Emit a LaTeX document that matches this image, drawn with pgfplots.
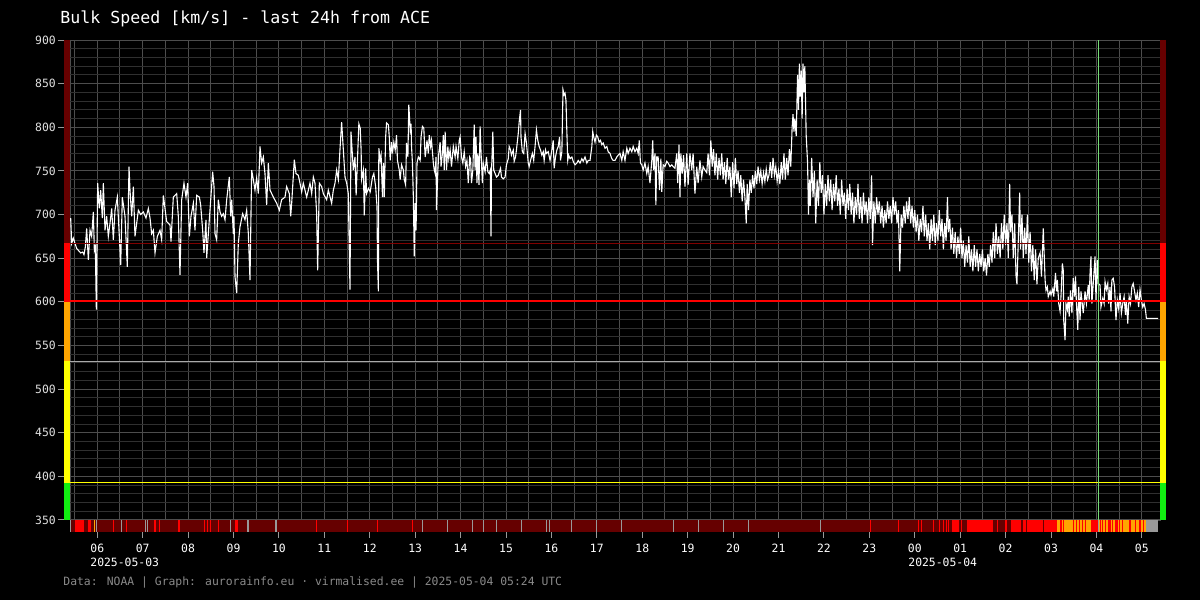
\documentclass[border=0pt]{standalone}
\usepackage{pgfplots}
\pgfplotsset{compat=1.18}
\usepackage{fontspec}
\setmainfont{DejaVu Sans Mono}

\definecolor{dred}{HTML}{660000}
\definecolor{lred}{HTML}{800000}
\definecolor{bred}{HTML}{FF0000}
\definecolor{orng}{HTML}{FFA500}
\definecolor{yel}{HTML}{FFFF00}
\definecolor{grn}{HTML}{11EE11}
\definecolor{gridmaj}{HTML}{4D4D4D}
\definecolor{gridmin}{HTML}{303030}
\definecolor{stgray}{HTML}{999999}
\definecolor{thgray}{HTML}{AAAAAA}
\definecolor{ltgrn}{HTML}{77DD77}
\definecolor{footgray}{HTML}{8A8A8A}

% strip below the axis: block and 1px stripe
\newcommand{\seg}[3]{\addplot[fill=#1,draw=none] coordinates {(#2,336.5) (#3,336.5) (#3,350) (#2,350)} --cycle;}
\newcommand{\stripe}[2]{\addplot[draw=#1,line width=0.55pt] coordinates {(#2,336.5) (#2,350)};}

\begin{document}
\begin{tikzpicture}
\fill[black] (0,0) rectangle (600pt,300pt);
\useasboundingbox (0,0) rectangle (600pt,300pt);
\begin{axis}[
  at={(35pt,40pt)}, anchor=south west,
  scale only axis, width=545pt, height=240pt,
  xmin=5.4, xmax=29.4, ymin=350, ymax=900,
  clip=false,
  axis line style={gridmaj},
  xtick={6,...,29},
  xticklabels={06,07,08,09,10,11,12,13,14,15,16,17,18,19,20,21,22,23,00,01,02,03,04,05},
  minor xtick={5.5,6.5,...,28.5},
  ytick={350,400,...,900},
  extra y ticks={360,370,380,390,410,420,430,440,460,470,480,490,510,520,530,540,560,570,580,590,610,620,630,640,660,670,680,690,710,720,730,740,760,770,780,790,810,820,830,840,860,870,880,890},
  extra y tick labels={},
  extra y tick style={major tick length=0pt, major grid style={gridmin, line width=0.5pt}},
  grid=both,
  major grid style={gridmaj, line width=0.5pt},
  minor grid style={gridmaj, line width=0.5pt},
  tick align=outside, tick pos=left,
  major tick length=3pt, minor tick length=0pt,
  x tick style={draw=white!60!black, line width=0.5pt, yshift=-6pt},
  y tick style={draw=white!60!black, line width=0.5pt, xshift=-3pt},
  /pgf/number format/assume math mode=true,
  tick label style={font=\fontsize{5.7}{6}\selectfont, text=white},
  xticklabel style={yshift=-5.5pt},
  yticklabel style={xshift=-0.6pt, text=white!88!black},
]
% side colour bars
\addplot[fill=dred,draw=none] coordinates {(5.268,667) (5.4,667) (5.4,900) (5.268,900)} --cycle;
\addplot[fill=bred,draw=none] coordinates {(5.268,600) (5.4,600) (5.4,667) (5.268,667)} --cycle;
\addplot[fill=orng,draw=none] coordinates {(5.268,532) (5.4,532) (5.4,600) (5.268,600)} --cycle;
\addplot[fill=yel,draw=none] coordinates {(5.268,392) (5.4,392) (5.4,532) (5.268,532)} --cycle;
\addplot[fill=grn,draw=none] coordinates {(5.268,350) (5.4,350) (5.4,392) (5.268,392)} --cycle;
\addplot[fill=dred,draw=none] coordinates {(29.4,667) (29.532,667) (29.532,900) (29.4,900)} --cycle;
\addplot[fill=bred,draw=none] coordinates {(29.4,600) (29.532,600) (29.532,667) (29.4,667)} --cycle;
\addplot[fill=orng,draw=none] coordinates {(29.4,532) (29.532,532) (29.532,600) (29.4,600)} --cycle;
\addplot[fill=yel,draw=none] coordinates {(29.4,392) (29.532,392) (29.532,532) (29.4,532)} --cycle;
\addplot[fill=grn,draw=none] coordinates {(29.4,350) (29.532,350) (29.532,392) (29.4,392)} --cycle;

% status strip
\seg{dred}{5.41}{29.09}
\seg{bred}{5.50}{5.71}
\stripe{stgray}{5.42}
\stripe{bred}{5.80}\stripe{bred}{5.84}\stripe{orng}{5.94}\stripe{stgray}{5.99}
\stripe{bred}{6.35}\stripe{stgray}{6.54}\stripe{bred}{6.64}
\stripe{stgray}{7.06}\stripe{stgray}{7.10}
\seg{bred}{7.26}{7.29}\stripe{bred}{7.38}\stripe{bred}{7.80}
\stripe{bred}{8.37}\stripe{bred}{8.42}\seg{bred}{8.49}{8.51}\stripe{bred}{8.67}
\stripe{stgray}{8.93}\seg{bred}{9.03}{9.10}
\seg{stgray}{9.30}{9.34}\seg{stgray}{9.92}{9.96}
\stripe{bred}{10.82}\stripe{bred}{11.51}\stripe{bred}{12.17}\stripe{bred}{12.94}
\stripe{stgray}{13.17}\stripe{stgray}{13.72}\stripe{stgray}{14.27}\stripe{stgray}{14.51}
\stripe{stgray}{14.79}\stripe{stgray}{15.35}\stripe{stgray}{15.90}\stripe{stgray}{15.95}
\stripe{stgray}{16.45}\stripe{stgray}{17.00}\stripe{stgray}{17.55}\stripe{stgray}{18.69}
\stripe{stgray}{19.24}\stripe{stgray}{19.79}\stripe{stgray}{20.33}\stripe{stgray}{21.92}
\stripe{bred}{23.02}\stripe{bred}{23.64}\stripe{bred}{24.08}\stripe{bred}{24.14}
\stripe{bred}{24.41}\stripe{bred}{24.54}\stripe{bred}{24.63}\stripe{bred}{24.69}\stripe{bred}{24.74}
\seg{bred}{24.82}{24.97}\stripe{bred}{25.02}
\seg{bred}{25.15}{25.72}\seg{bred}{25.81}{25.83}\seg{bred}{25.99}{26.03}
\seg{bred}{26.12}{26.34}\seg{bred}{26.38}{26.45}\seg{bred}{26.47}{26.82}
\seg{bred}{26.84}{27.13}
\seg{orng}{27.13}{27.88}
\stripe{bred}{27.22}\stripe{bred}{27.28}\stripe{bred}{27.49}\stripe{bred}{27.57}
\stripe{bred}{27.63}\stripe{bred}{27.70}\stripe{bred}{27.76}
\seg{bred}{27.88}{28.03}\stripe{stgray}{28.04}
\seg{orng}{28.05}{29.09}
\seg{bred}{28.07}{28.10}\stripe{bred}{28.13}\stripe{bred}{28.19}\stripe{bred}{28.27}
\stripe{bred}{28.30}\stripe{bred}{28.35}\seg{bred}{28.41}{28.47}\stripe{bred}{28.50}
\stripe{bred}{28.58}\seg{bred}{28.72}{28.76}\stripe{bred}{28.87}\seg{bred}{28.94}{28.98}
\stripe{bred}{29.03}
\seg{stgray}{29.09}{29.36}

% bulk speed
\addplot[white, line width=0.55pt] coordinates {
(5.415,696) (5.437,667) (5.474,673) (5.510,667) (5.547,661) (5.584,659) (5.635,656) (5.679,657)
(5.708,654) (5.738,663) (5.767,684) (5.804,648) (5.841,682) (5.877,675) (5.914,703) (5.936,659)
(5.958,663) (5.980,591) (6.009,736) (6.046,707) (6.075,728) (6.112,696) (6.134,736) (6.171,682)
(6.207,698) (6.244,675) (6.281,690) (6.318,707) (6.354,671) (6.391,705) (6.442,720) (6.486,675)
(6.516,642) (6.552,720) (6.611,698) (6.662,640) (6.699,755) (6.721,728) (6.758,698) (6.795,732)
(6.831,675) (6.905,705) (6.956,700) (7.015,703) (7.073,696) (7.125,707) (7.162,696) (7.198,678)
(7.235,682) (7.272,656) (7.323,675) (7.382,682) (7.418,671) (7.455,722) (7.528,692) (7.602,688)
(7.624,669) (7.675,720) (7.749,724) (7.785,698) (7.822,631) (7.859,717) (7.910,736) (7.954,720)
(7.991,736) (8.028,675) (8.064,698) (8.116,713) (8.152,682) (8.189,722) (8.248,720) (8.277,711)
(8.321,682) (8.350,656) (8.394,694) (8.409,650) (8.446,678) (8.541,749) (8.571,732) (8.593,678)
(8.629,671) (8.666,717) (8.703,703) (8.739,698) (8.776,701) (8.813,694) (8.850,717) (8.908,743)
(8.938,698) (8.960,717) (8.996,678) (9.011,698) (9.033,629) (9.070,610) (9.106,667) (9.143,686)
(9.202,701) (9.253,694) (9.290,705) (9.327,678) (9.363,625) (9.400,751) (9.437,740) (9.473,728)
(9.510,742) (9.547,724) (9.583,778) (9.620,759) (9.657,766) (9.693,747) (9.730,711) (9.767,759)
(9.804,728) (9.877,720) (9.950,713) (10.009,705) (10.060,717) (10.134,720) (10.170,732) (10.229,724)
(10.259,698) (10.281,713) (10.339,763) (10.376,747) (10.427,745) (10.464,736) (10.501,726) (10.537,736)
(10.611,720) (10.648,728) (10.684,736) (10.721,724) (10.758,743) (10.794,736) (10.831,701) (10.853,636)
(10.890,736) (10.941,732) (10.978,724) (11.051,717) (11.088,728) (11.161,713) (11.198,728) (11.235,736)
(11.271,751) (11.308,740) (11.345,775) (11.381,806) (11.455,743) (11.492,736) (11.528,724) (11.565,614)
(11.587,795) (11.638,751) (11.675,766)
(11.70,722) (11.76,804) (11.79,799) (11.81,774) (11.82,740) (11.86,751) (11.88,699) (11.91,753)
(11.93,724) (11.97,730) (12.01,726) (12.06,743) (12.09,747) (12.13,732) (12.16,709) (12.17,648)
(12.19,612) (12.20,776) (12.23,762) (12.25,768) (12.28,720) (12.30,759) (12.32,720) (12.35,789)
(12.37,805) (12.41,803) (12.43,789) (12.45,762) (12.48,783) (12.50,770) (12.53,783) (12.56,774)
(12.59,791) (12.61,762) (12.65,751) (12.67,740) (12.70,757) (12.74,751) (12.76,740) (12.79,734)
(12.81,782) (12.84,766) (12.86,826) (12.89,797) (12.91,804) (12.92,778) (12.94,759) (12.96,720)
(12.98,652) (13.00,713) (13.02,682) (13.04,759) (13.07,766) (13.11,762) (13.13,789) (13.16,801)
(13.19,799) (13.22,766) (13.24,774) (13.26,785) (13.29,770) (13.31,791) (13.34,778) (13.36,785)
(13.40,759) (13.42,751) (13.44,747) (13.46,766) (13.47,705) (13.50,751) (13.52,770) (13.55,783)
(13.57,755) (13.60,770) (13.62,791) (13.64,751) (13.66,795) (13.69,751) (13.72,778) (13.74,764)
(13.77,774) (13.80,755) (13.84,778) (13.88,766) (13.90,778) (13.94,764) (13.97,785) (13.99,789)
(14.02,766) (14.05,759) (14.08,772) (14.11,755) (14.14,762) (14.17,736) (14.20,766) (14.22,764)
(14.24,736) (14.27,751) (14.30,803) (14.32,751) (14.34,789) (14.36,736) (14.38,770) (14.405,734)
(14.43,801) (14.45,772) (14.48,736) (14.50,759) (14.54,749) (14.57,766) (14.60,749) (14.63,747)
(14.655,751) (14.67,675) (14.68,747) (14.71,795) (14.73,751) (14.76,747) (14.79,743) (14.83,745)
(14.88,753) (14.90,743) (14.94,741) (14.98,743) (15.01,757) (15.05,764) (15.07,778) (15.10,774)
(15.12,768) (15.16,774) (15.18,761) (15.21,766) (15.23,774) (15.27,793) (15.29,806) (15.32,820)
(15.33,789) (15.36,772) (15.39,770) (15.42,793) (15.45,782) (15.49,759) (15.51,755) (15.54,762)
(15.58,770) (15.61,762) (15.64,778) (15.67,797) (15.70,785) (15.73,778) (15.76,774) (15.79,768)
(15.82,772) (15.84,762) (15.87,774) (15.89,770) (15.93,772) (15.97,762) (16.005,772) (16.04,785)
(16.06,753) (16.09,766) (16.12,774) (16.15,778) (16.18,789) (16.20,762) (16.23,772) (16.255,843)
(16.28,837) (16.30,839) (16.32,831) (16.34,795) (16.36,762) (16.38,768) (16.41,764) (16.45,766)
(16.48,761) (16.52,757) (16.56,759) (16.59,762) (16.63,759) (16.67,764) (16.70,761) (16.74,766)
(16.78,759) (16.81,762) (16.85,762) (16.89,778) (16.91,795) (16.93,789) (16.96,783) (16.99,791)
(17.02,789) (17.05,783) (17.08,785) (17.11,780) (17.14,782) (17.18,776) (17.22,778) (17.25,772)
(17.29,770) (17.33,764) (17.36,762) (17.40,762) (17.44,766) (17.47,768) (17.51,770) (17.55,762)
(17.58,772) (17.62,762) (17.66,776) (17.69,770) (17.73,776) (17.77,772) (17.80,778) (17.84,772)
(17.88,776) (17.91,770) (17.935,785) (17.96,759) (17.99,757) (18.02,751) (18.06,759) (18.10,747)
(18.13,755) (18.17,736) (18.21,762) (18.23,785) (18.25,751) (18.28,770) (18.30,711) (18.32,766)
(18.35,766) (18.38,728) (18.41,764) (18.43,726) (18.46,757) (18.50,755) (18.54,761) (18.57,759)
(18.61,755) (18.65,757) (18.68,755) (18.72,753) (18.76,770) (18.78,736) (18.81,780) (18.83,720)
(18.85,770) (18.88,747) (18.91,768) (18.94,732) (18.98,770) (19.01,734) (19.05,770) (19.09,751)
(19.12,770) (19.16,724) (19.20,755) (19.23,736) (19.27,762) (19.31,743) (19.34,755) (19.38,751)
(19.42,748) (19.45,770)
(19.48,745) (19.51,785) (19.54,755) (19.57,775) (19.60,745) (19.63,770) (19.66,740) (19.69,765)
(19.72,745) (19.75,770) (19.78,740) (19.81,760) (19.84,735) (19.87,765) (19.90,740) (19.93,755)
(19.96,720) (19.99,760) (20.02,730) (20.05,765) (20.08,735) (20.11,750) (20.14,725) (20.17,745)
(20.20,715) (20.23,740) (20.26,720) (20.29,690) (20.31,735) (20.34,705) (20.37,740) (20.40,725)
(20.43,745) (20.46,730) (20.49,750) (20.52,735) (20.55,755) (20.58,740) (20.61,750) (20.64,735)
(20.67,748) (20.70,738) (20.73,752) (20.76,740) (20.79,745) (20.82,760) (20.85,742) (20.88,765)
(20.91,745) (20.94,755) (20.97,738) (21.00,750) (21.03,735) (21.06,760) (21.09,740) (21.12,770)
(21.15,740) (21.18,765) (21.21,745) (21.24,775) (21.27,755) (21.30,800) (21.32,815) (21.34,795)
(21.36,810) (21.39,790) (21.42,860) (21.44,820) (21.46,873) (21.48,835) (21.50,865) (21.52,810)
(21.54,873) (21.56,840) (21.58,870) (21.61,790) (21.64,760) (21.66,700) (21.68,740) (21.70,710)
(21.73,765) (21.76,720) (21.79,750) (21.82,690) (21.85,740) (21.88,710) (21.91,760) (21.94,725)
(21.97,745) (22.00,700) (22.03,735) (22.06,710) (22.09,745) (22.12,715) (22.15,740) (22.18,705)
(22.21,735) (22.24,715) (22.27,745) (22.30,710) (22.33,730) (22.36,700) (22.39,740) (22.42,710)
(22.45,725) (22.48,695) (22.51,730) (22.54,705) (22.57,735) (22.60,700) (22.63,725) (22.66,690)
(22.69,720) (22.72,700) (22.75,735) (22.78,695) (22.81,720) (22.84,690) (22.87,725) (22.90,700)
(22.93,715) (22.96,690) (22.99,720) (23.02,695) (23.05,745) (23.07,665) (23.10,715) (23.13,690)
(23.16,720) (23.19,700) (23.22,715) (23.25,690) (23.28,710) (23.31,685) (23.34,705) (23.37,690)
(23.40,715) (23.43,695) (23.46,710) (23.49,690) (23.52,720) (23.55,700) (23.58,715) (23.61,690)
(23.64,705) (23.67,635) (23.70,700) (23.73,685) (23.76,710) (23.79,690) (23.82,715) (23.85,695)
(23.88,720) (23.91,690) (23.94,710) (23.97,685) (24.00,705) (24.03,680) (24.06,700) (24.09,670)
(24.12,695) (24.15,680) (24.18,710) (24.21,675) (24.24,700) (24.27,670) (24.30,690) (24.33,660)
(24.36,695) (24.39,670) (24.42,700) (24.45,665) (24.48,690) (24.51,670) (24.54,705) (24.57,675)
(24.60,695) (24.63,660) (24.66,690) (24.69,670) (24.72,720) (24.74,680) (24.77,695) (24.80,660)
(24.83,685) (24.86,655) (24.89,680) (24.92,650) (24.95,675) (24.98,655) (25.01,685) (25.04,650)
(25.07,670) (25.10,640) (25.13,665) (25.16,645) (25.19,675) (25.22,640) (25.25,660) (25.28,635)
(25.31,665) (25.34,640) (25.37,660) (25.40,635) (25.43,655) (25.46,640) (25.49,660) (25.52,635)
(25.55,650) (25.58,630) (25.61,655) (25.64,640) (25.67,665) (25.70,645) (25.73,680) (25.76,650)
(25.79,690) (25.82,655) (25.85,675) (25.88,650) (25.91,690) (25.94,660) (25.97,700) (26.00,665)
(26.03,690) (26.06,650) (26.09,735) (26.11,680) (26.14,700) (26.17,650) (26.20,690) (26.23,630)
(26.25,620) (26.28,670) (26.31,725) (26.33,660) (26.36,700) (26.39,650) (26.42,685) (26.45,655)
(26.48,700) (26.51,645) (26.54,680) (26.57,635) (26.60,665) (26.63,625) (26.66,660) (26.69,620)
(26.72,650) (26.76,656) (26.79,629) (26.83,684) (26.84,669) (26.87,625) (26.89,613) (26.92,617)
(26.94,606) (26.98,612) (27.00,608) (27.04,615) (27.06,606) (27.10,633) (27.12,612) (27.14,625)
(27.17,598) (27.20,589) (27.22,606) (27.25,644) (27.27,636) (27.28,579) (27.31,556) (27.33,598)
(27.36,591) (27.38,606) (27.40,583) (27.43,613) (27.46,587) (27.49,627) (27.52,606) (27.54,629)
(27.56,598) (27.59,568) (27.61,617) (27.64,579) (27.66,612) (27.68,602) (27.71,587) (27.75,612)
(27.78,598) (27.82,619) (27.84,602) (27.86,633) (27.88,652) (27.90,598) (27.93,621) (27.97,652)
(27.99,602) (28.02,648) (28.04,621) (28.08,619) (28.10,594) (28.14,604) (28.17,598) (28.19,623)
(28.22,614) (28.25,621) (28.27,598) (28.30,617) (28.32,589) (28.34,625) (28.37,627) (28.40,617)
(28.43,579) (28.46,602) (28.49,592) (28.52,610) (28.55,587) (28.58,598) (28.61,606) (28.64,585)
(28.66,602) (28.69,575) (28.72,606) (28.75,598) (28.78,617) (28.81,621) (28.84,612) (28.87,602)
(28.90,610) (28.93,594) (28.96,614) (28.99,602) (29.02,594) (29.05,598) (29.08,591) (29.10,581)
(29.36,581)
};

% thresholds and marker
\addplot[lred, line width=0.5pt] coordinates {(5.4,666.8) (29.4,666.8)};
\addplot[bred, line width=1pt] coordinates {(5.4,601) (29.4,601)};
\addplot[thgray, line width=0.5pt] coordinates {(5.4,531.6) (29.4,531.6)};
\addplot[yel, line width=0.5pt] coordinates {(5.4,393) (29.4,393)};
\addplot[ltgrn, line width=0.5pt] coordinates {(28.046,350) (28.046,900)};
\end{axis}
\node[anchor=west, inner sep=0, text=white, font=\fontsize{8.3}{10}\selectfont] at (30pt,290.5pt) {Bulk Speed [km/s] - last 24h from ACE};
\node[anchor=west, inner sep=0, text=white, font=\fontsize{5.7}{6}\selectfont] at (45pt,19pt) {2025-05-03};
\node[anchor=west, inner sep=0, text=white, font=\fontsize{5.7}{6}\selectfont] at (454pt,19pt) {2025-05-04};
\node[anchor=west, inner sep=0, text=footgray, font=\fontsize{5.7}{6}\selectfont] at (31.5pt,9pt) {Data: NOAA | Graph: aurorainfo.eu · virmalised.ee | 2025-05-04 05:24 UTC};
\end{tikzpicture}
\end{document}
